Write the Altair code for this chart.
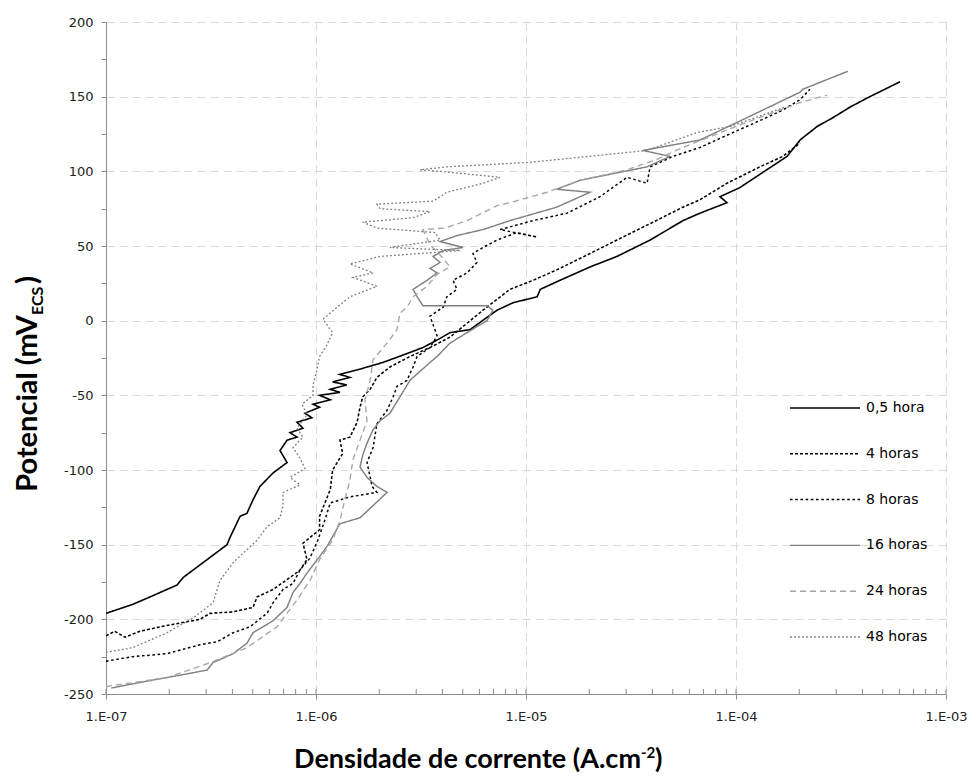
import altair as alt
import pandas as pd

# ---------------- data (current density A/cm2, potential mV) ----------------
series = ["0,5 hora", "4 horas", "8 horas", "16 horas", "24 horas", "48 horas"]

A_i = [1.00e-7,1.34e-7,1.62e-7,2.18e-7,2.33e-7,3.03e-7,3.77e-7,3.90e-7,4.35e-7,4.69e-7,5.01e-7,5.41e-7,6.24e-7,7.28e-7,6.74e-7,
       7.28e-7,8.12e-7,7.52e-7,8.67e-7,8.12e-7,9.56e-7,8.86e-7,1.04e-6,9.68e-7,1.17e-6,1.04e-6,1.30e-6,1.17e-6,1.40e-6,1.20e-6,
       1.45e-6,1.30e-6,1.57e-6,2.08e-6,2.60e-6,3.23e-6,3.77e-6,4.35e-6,5.41e-6,7.28e-6,8.67e-6,1.13e-5,1.17e-5,1.45e-5,2.02e-5,
       2.71e-5,3.90e-5,5.59e-5,6.74e-5,9.06e-5,8.39e-5,1.04e-4,1.40e-4,1.75e-4,2.02e-4,2.43e-4,2.90e-4,3.49e-4,4.20e-4,6.04e-4]
A_E = [-196,-190,-185,-177,-172,-160,-150,-145,-131,-129,-120,-111,-102,-95,-87,
       -80,-78,-75,-72,-68,-65,-62,-58,-56,-53,-50,-48,-46,-43,-41,
       -38,-36,-33,-28,-23,-18,-13,-8,-6,7,12,16,21,27,36,
       43,54,67,72,79,83,89,101,110,121,130,136,143,149,160]

B_i = [1.00e-7,1.10e-7,1.23e-7,1.45e-7,1.81e-7,2.80e-7,3.13e-7,4.03e-7,5.01e-7,5.24e-7,6.24e-7,7.52e-7,8.39e-7,9.06e-7,8.67e-7,
       1.04e-6,1.04e-6,1.17e-6,1.20e-6,1.34e-6,1.30e-6,1.45e-6,1.57e-6,1.62e-6,1.67e-6,1.81e-6,1.95e-6,2.25e-6,2.80e-6,3.49e-6,
       4.35e-6,6.24e-6,8.39e-6,1.08e-5,1.40e-5,2.02e-5,2.71e-5,3.90e-5,5.59e-5,6.74e-5,9.06e-5,1.30e-4,1.67e-4,2.02e-4]
B_E = [-211,-208,-212,-208,-205,-200,-196,-195,-192,-185,-180,-172,-167,-160,-149,
       -140,-131,-113,-100,-89,-80,-78,-68,-58,-51,-46,-38,-31,-24,-18,
       -11,7,21,27,34,45,54,65,76,81,92,103,110,119]

C_i = [1.00e-7,1.34e-7,1.95e-7,2.80e-7,3.38e-7,4.03e-7,4.85e-7,5.84e-7,6.24e-7,6.96e-7,7.77e-7,8.39e-7,9.36e-7,1.02e-6,1.10e-6,
       1.17e-6,1.45e-6,1.95e-6,1.85e-6,1.75e-6,1.87e-6,1.95e-6,2.18e-6,2.33e-6,2.43e-6,2.71e-6,2.90e-6,3.03e-6,3.49e-6,3.77e-6,
       3.49e-6,4.03e-6,4.20e-6,4.69e-6,4.49e-6,5.24e-6,5.84e-6,5.59e-6,6.24e-6,7.28e-6,9.06e-6,1.13e-5,7.52e-6,1.08e-5,1.57e-5,
       2.25e-5,3.03e-5,3.77e-5,3.90e-5,5.01e-5,6.74e-5,9.68e-5,1.30e-4,1.67e-4,2.02e-4,2.25e-4]
C_E = [-228,-225,-223,-217,-215,-209,-205,-196,-189,-180,-176,-167,-159,-147,-134,
       -122,-118,-115,-111,-95,-85,-69,-60,-51,-44,-40,-31,-24,-18,-10,
       3,9,16,21,27,32,39,45,49,54,59,56,61,67,72,
       83,96,92,103,110,116,126,134,141,148,155]

D_i = [1.06e-7,1.62e-7,2.33e-7,3.03e-7,3.23e-7,4.03e-7,4.69e-7,5.01e-7,6.24e-7,7.28e-7,7.77e-7,8.39e-7,9.06e-7,1.04e-6,1.13e-6,
       1.30e-6,1.62e-6,2.18e-6,1.95e-6,1.75e-6,1.62e-6,1.67e-6,1.75e-6,1.87e-6,2.02e-6,2.25e-6,2.80e-6,3.49e-6,3.77e-6,4.35e-6,
       5.24e-6,6.52e-6,6.96e-6,6.52e-6,3.23e-6,3.03e-6,2.90e-6,3.38e-6,3.77e-6,3.49e-6,3.90e-6,3.61e-6,4.03e-6,5.01e-6,3.90e-6,
       4.69e-6,6.24e-6,8.39e-6,1.40e-5,2.02e-5,1.40e-5,1.81e-5,3.77e-5,4.85e-5,3.61e-5,6.74e-5,1.13e-4,2.02e-4,2.08e-4,3.41e-4]
D_E = [-246,-241,-237,-234,-229,-223,-216,-209,-201,-192,-182,-176,-169,-158,-151,
       -136,-132,-115,-111,-105,-98,-90,-82,-73,-67,-62,-40,-28,-24,-15,
       -8,0,7,10,10,16,21,27,32,35,39,43,47,49,53,
       57,61,67,76,86,88,94,103,110,114,121,136,153,155,167]

E_i = [1.00e-7,1.26e-7,1.95e-7,3.13e-7,4.69e-7,6.52e-7,8.12e-7,9.36e-7,1.04e-6,1.20e-6,1.30e-6,1.37e-6,1.45e-6,1.50e-6,1.62e-6,
       1.75e-6,1.71e-6,1.81e-6,1.87e-6,2.18e-6,2.43e-6,2.51e-6,2.71e-6,2.90e-6,3.38e-6,3.77e-6,4.35e-6,3.90e-6,3.49e-6,3.23e-6,
       4.11e-6,5.24e-6,7.28e-6,8.39e-6,1.26e-5,1.81e-5,2.25e-5,3.03e-5,4.20e-5,5.59e-5,1.04e-4,2.02e-4,2.71e-4]
E_E = [-245,-243,-239,-229,-219,-205,-187,-174,-160,-147,-134,-120,-107,-93,-80,
       -67,-53,-40,-26,-15,-6,5,9,16,23,31,36,44,51,61,
       62,67,77,79,86,94,97,101,108,116,131,146,151]

F_i = [1.00e-7,1.34e-7,1.95e-7,2.60e-7,3.23e-7,3.38e-7,3.49e-7,4.03e-7,5.24e-7,5.84e-7,6.74e-7,6.96e-7,6.96e-7,8.39e-7,7.52e-7,
       8.86e-7,8.39e-7,7.77e-7,8.67e-7,8.12e-7,9.06e-7,8.58e-7,9.68e-7,9.68e-7,1.01e-6,1.04e-6,1.13e-6,1.20e-6,1.08e-6,1.26e-6,
       1.45e-6,1.95e-6,1.50e-6,1.87e-6,1.45e-6,2.02e-6,4.85e-6,2.25e-6,3.90e-6,3.69e-6,1.95e-6,1.67e-6,2.90e-6,3.49e-6,2.02e-6,
       1.95e-6,3.61e-6,4.20e-6,6.24e-6,7.52e-6,3.90e-6,3.13e-6,4.20e-6,1.04e-5,3.77e-5,6.52e-5,9.36e-5,1.71e-4]
F_E = [-222,-219,-209,-199,-189,-180,-174,-162,-147,-138,-132,-124,-115,-110,-105,
       -99,-92,-85,-78,-72,-63,-56,-50,-43,-33,-24,-16,-8,1,9,
       16,23,29,32,38,43,47,49,54,59,62,66,69,73,75,
       78,80,86,92,96,100,101,103,106,114,126,130,143]

x_ticks = [1e-7, 1e-6, 1e-5, 1e-4, 1e-3]
y_ticks = list(range(-250, 201, 25))
y_title_main, y_title_sub, y_title_end = "Potencial (mV", "ECS", ")"
x_title_main, x_title_sup, x_title_end = "Densidade de corrente (A.cm", "-2", ")"

# ---------------- styles ----------------
colors = ["#000000", "#000000", "#000000", "#7f7f7f", "#a6a6a6", "#7a7a7a"]
dashes = [[1, 0], [3, 2], [2.6, 2.6], [1, 0], [6, 4], [1.8, 2.2]]
widths = [1.6, 1.3, 2.8, 1.3, 1.3, 2.1]
AX = "#8c8c8c"
GRID = "#d9d9d9"

rows = []
for name, xs, ys in zip(series, [A_i, B_i, C_i, D_i, E_i, F_i], [A_E, B_E, C_E, D_E, E_E, F_E]):
    assert len(xs) == len(ys), name
    for k, (a, b) in enumerate(zip(xs, ys)):
        rows.append({"s": name, "i": a, "E": b, "idx": k})
df = pd.DataFrame(rows)

color_enc = alt.Color("s:N", scale=alt.Scale(domain=series, range=colors), legend=None)
dash_enc = alt.StrokeDash("s:N", scale=alt.Scale(domain=series, range=dashes), legend=None)
width_enc = alt.StrokeWidth("s:O", scale=alt.Scale(domain=series, range=widths), legend=None)

xscale = alt.Scale(type="log", domain=[1e-7, 1e-3], nice=False)
x_axis = alt.Axis(values=x_ticks, labelExpr="'1.E-0' + round(-log(datum.value)/LN10)",
                  title=None, tickSize=5, tickColor=AX, domainColor=AX, labelPadding=11,
                  labelFont="DejaVu Sans", labelFontSize=13, labelColor="#222222",
                  grid=True, gridColor=GRID, gridDash=[8, 5], labelFlush=False)

lines = alt.Chart(df).mark_line(clip=True).encode(
    x=alt.X("i:Q", scale=xscale, axis=x_axis),
    y=alt.Y("E:Q", scale=alt.Scale(domain=[-250, 200], nice=False, zero=False),
            axis=alt.Axis(values=y_ticks, labelExpr="datum.value % 50 == 0 ? '' + datum.value : ''",
                          title=None, tickSize=5, tickColor=AX, domainColor=AX, labelPadding=8,
                          labelFont="DejaVu Sans", labelFontSize=13, labelColor="#222222",
                          grid=True, gridColor=GRID, gridDash=[8, 5],
                          gridOpacity=alt.condition("datum.value % 50 == 0", alt.value(1), alt.value(0)))),
    color=color_enc, strokeDash=dash_enc, strokeWidth=width_enc,
    order="idx:Q",
)

minor = pd.DataFrame({"i": [m * 10.0 ** k for k in range(-7, -3) for m in range(1, 10)] + [1e-3]})
minor_ticks = alt.Chart(minor).mark_rule(color=AX, strokeWidth=1).encode(
    x=alt.X("i:Q", scale=xscale, axis=x_axis), y=alt.value(667), y2=alt.value(672))

leg = pd.DataFrame({"s": series})
leg_y = alt.Y("s:N", scale=alt.Scale(type="point", domain=series, range=[386, 615], padding=0), axis=None)
leg_lines = alt.Chart(leg).mark_rule().encode(
    x=alt.value(684), x2=alt.value(754), y=leg_y,
    color=color_enc, strokeDash=dash_enc, strokeWidth=width_enc)
leg_text = alt.Chart(leg).mark_text(align="left", baseline="middle", font="DejaVu Sans",
                                     fontSize=14, color="#000000").encode(
    x=alt.value(760), y=leg_y, text="s:N")


def piece(s, x, y, **kw):
    return alt.Chart(pd.DataFrame({"t": [s]})).mark_text(font="Lato", fontWeight="bold", color="#000000",
                                                         **kw).encode(text="t:N", x=alt.value(x), y=alt.value(y))


YS = 29
XS = 27
yt1 = piece(y_title_main, -69, 293, angle=270, align="right", baseline="alphabetic", fontSize=YS)
yt2 = piece(y_title_sub, -69, 293, angle=270, align="left", baseline="alphabetic", fontSize=16, dy=6)
yt3 = piece(y_title_end, -69, 293, angle=270, align="left", baseline="alphabetic", fontSize=YS, dx=31)
xt1 = piece(x_title_main, 535, 74 + 672, align="right", baseline="alphabetic", fontSize=XS)
xt2 = piece(x_title_sup, 535, 74 + 672, align="left", baseline="alphabetic", fontSize=15, dy=-10)
xt3 = piece(x_title_end, 535, 74 + 672, align="left", baseline="alphabetic", fontSize=XS, dx=14)

chart = alt.layer(lines, minor_ticks, leg_lines, leg_text, yt1, yt2, yt3, xt1, xt2, xt3).resolve_scale(
    y="independent"
).properties(
    width=840, height=672,
    padding={"left": 106, "top": 22, "right": 33, "bottom": 90},
    autosize=alt.AutoSizeParams(type="none"),
    background="white",
).configure_view(stroke=None)

chart.save("out.html", embed_options={"renderer": "svg", "actions": False})
